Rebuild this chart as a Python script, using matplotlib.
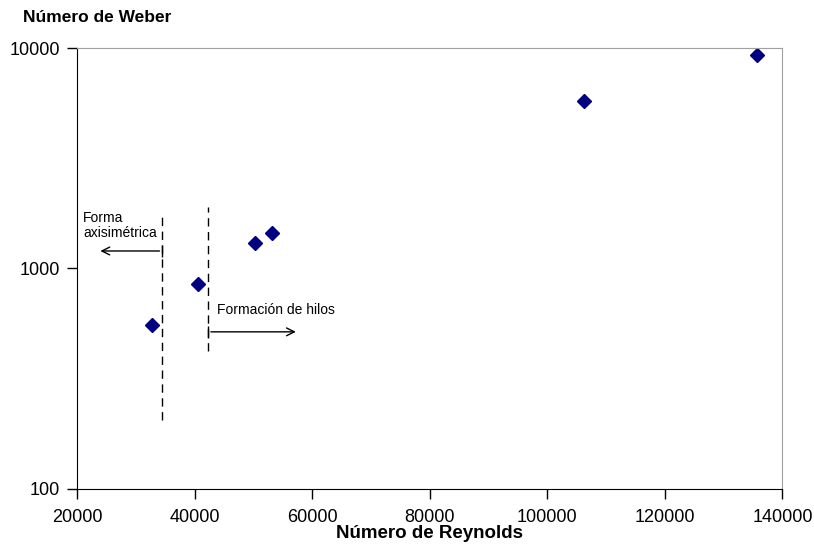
import matplotlib.pyplot as plt
from matplotlib.ticker import FixedLocator, NullLocator, FuncFormatter

# Datos
reynolds = [32800, 40600, 50200, 53100, 106200, 135600]
weber = [555, 850, 1305, 1450, 5750, 9300]

# limites de regimen (lineas discontinuas)
re_axisim = 34500
re_hilos = 42300

plt.rcParams['font.family'] = ['Liberation Sans', 'DejaVu Sans']

fig = plt.figure(figsize=(8.14, 5.54), dpi=100)
ax = fig.add_axes([0.0946, 0.1182, 0.8667, 0.7946])

ax.plot(reynolds, weber, linestyle='none', marker='D', ms=6.8, color='#000080')

ax.set_yscale('log')
ax.set_xlim(20000, 140000)
ax.set_ylim(100, 10000)
ax.xaxis.set_major_locator(FixedLocator([20000, 40000, 60000, 80000, 100000, 120000, 140000]))
ax.yaxis.set_major_locator(FixedLocator([100, 1000, 10000]))
ax.yaxis.set_minor_locator(NullLocator())
ax.yaxis.set_major_formatter(FuncFormatter(lambda v, p: '%d' % v))
ax.tick_params(axis='both', direction='out', length=7, width=1, labelsize=13, colors='black')
ax.tick_params(axis='x', pad=8)
ax.tick_params(axis='y', pad=5)

for s in ['top', 'right']:
    ax.spines[s].set_color('#a0a0a0')
for s in ['left', 'bottom']:
    ax.spines[s].set_color('black')

# lineas discontinuas
ax.plot([re_axisim, re_axisim], [205, 1750], color='black', lw=1, dashes=(6, 4))
ax.plot([re_hilos, re_hilos], [420, 1900], color='black', lw=1, dashes=(6, 4))

# flechas
ax.annotate('', xy=(23500, 1200), xytext=(re_axisim, 1200),
            arrowprops=dict(arrowstyle='->', color='black', lw=1, mutation_scale=14))
ax.annotate('', xy=(57700, 515), xytext=(re_hilos, 515),
            arrowprops=dict(arrowstyle='->', color='black', lw=1, mutation_scale=14))
ax.plot([re_axisim], [1200], marker='|', color='black', ms=8, mew=1)
ax.plot([re_hilos], [515], marker='|', color='black', ms=8, mew=1)

ax.text(21000, 1830, 'Forma\naxisimétrica', fontsize=10, va='top', ha='left', linespacing=1.15)
ax.text(43800, 650, 'Formación de hilos', fontsize=10, va='center', ha='left')

fig.text(0.028, 0.968, 'Número de Weber', fontsize=12.5, fontweight='bold', va='center', ha='left')
ax.set_xlabel('Número de Reynolds', fontsize=13.5, fontweight='bold', labelpad=-1)

fig.savefig('out.png', dpi=100)
